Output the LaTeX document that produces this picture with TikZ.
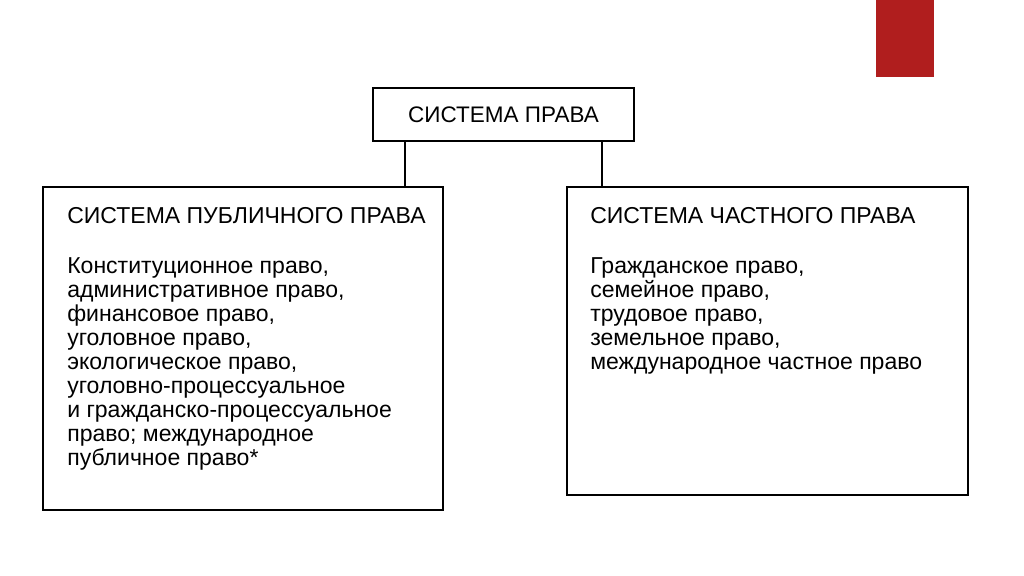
\documentclass[tikz,border=0pt]{standalone}
\usepackage{fontspec}
\setmainfont{Liberation Sans}
\usetikzlibrary{positioning}
\definecolor{accentred}{HTML}{B01E1E}
\begin{document}
\begin{tikzpicture}[
    box/.style={draw, line width=1.2pt, inner sep=0pt},
    boxtext/.style={anchor=north west, inner sep=0pt, align=left, font=\fontsize{13.1}{13.7}\selectfont}]
    \useasboundingbox (0,0) rectangle (20.48,11.52);
    \fill[accentred] (17.52,11.52) rectangle (18.68,9.98);
    % boxes
    \node[box, minimum width=5.22cm, minimum height=1.06cm, font=\fontsize{12.8}{14}\selectfont] (top) at (10.07,9.23) {СИСТЕМА ПРАВА};
    \node[box, minimum width=8.0cm, minimum height=6.46cm] (public) at (4.86,4.55) {};
    \node[box, minimum width=8.02cm, minimum height=6.16cm] (private) at (15.35,4.70) {};
    % connectors
    \draw[line width=1.2pt] ([xshift=0.66cm]top.south west) coordinate (a1) -- (a1 |- public.north);
    \draw[line width=1.2pt] ([xshift=-0.66cm]top.south east) coordinate (a2) -- (a2 |- private.north);
    % texts
    \node[boxtext] (ptitle) at ([xshift=0.5cm, yshift=-0.42cm]public.north west) {СИСТЕМА ПУБЛИЧНОГО ПРАВА};
    \node[boxtext, below=0.66cm of ptitle.south west, anchor=north west] (plist) {Конституционное право,\\
        административное право,\\
        финансовое право,\\
        уголовное право,\\
        экологическое право,\\
        уголовно-процессуальное\\
        и гражданско-процессуальное\\
        право; международное\\
        публичное право*};
    \node[boxtext] (rtitle) at ([xshift=0.48cm, yshift=-0.42cm]private.north west) {СИСТЕМА ЧАСТНОГО ПРАВА};
    \node[boxtext, below=0.66cm of rtitle.south west, anchor=north west] (rlist) {Гражданское право,\\
        семейное право,\\
        трудовое право,\\
        земельное право,\\
        международное частное право};
\end{tikzpicture}
\end{document}
